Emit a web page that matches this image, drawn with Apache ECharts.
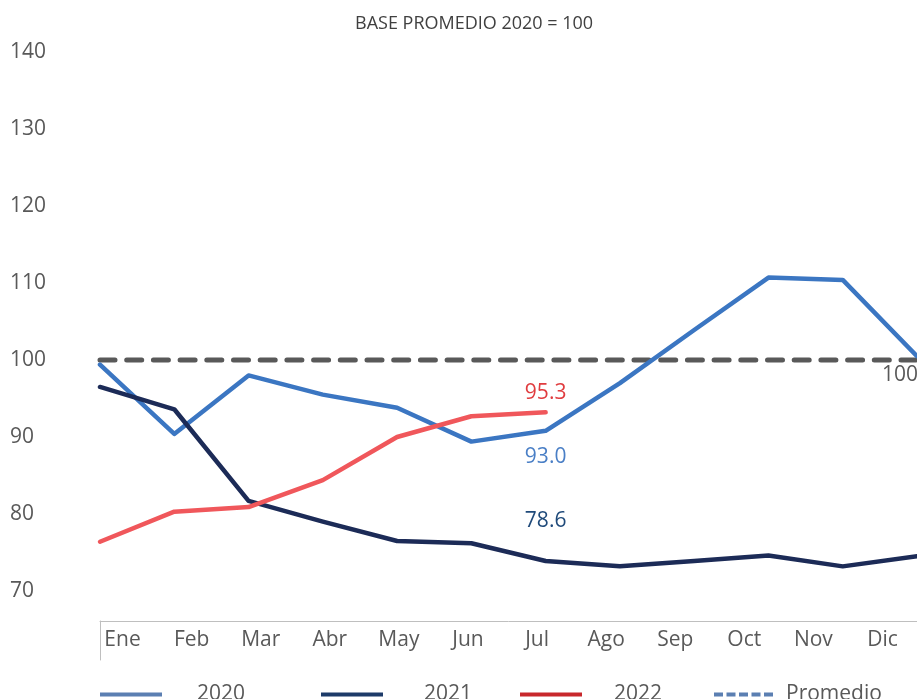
<!DOCTYPE html>
<html>
<head>
<meta charset="utf-8">
<script src="https://cdn.jsdelivr.net/npm/echarts@6/dist/echarts.min.js"></script>
<style>
  html, body { margin: 0; padding: 0; background: #fff; }
  #chart { width: 917px; height: 699px; }
</style>
</head>
<body>
<div id="chart"></div>
<script>
    // meses
    let meses = ['Ene', 'Feb', 'Mar', 'Abr', 'May', 'Jun', 'Jul', 'Ago', 'Sep', 'Oct', 'Nov', 'Dic']
    // indices base promedio 2020 = 100
    let serie2020 = [99.4, 90.4, 98.0, 95.5, 93.8, 89.4, 90.8, 97.0, 103.9, 110.7, 110.4, 100.5]
    let serie2021 = [96.5, 93.6, 81.7, 79.0, 76.5, 76.2, 73.9, 73.2, 73.9, 74.6, 73.2, 74.5]
    let serie2022 = [76.4, 80.3, 80.9, 84.4, 90.0, 92.7, 93.2]
    let promedio = [100, 100, 100, 100, 100, 100, 100, 100, 100, 100, 100, 100]
    let ticksY = [70, 80, 90, 100, 110, 120, 130, 140]
    // etiquetas de texto (promedios)
    let etiquetas = ['95.3', '93.0', '78.6', '100']

    let fuente = '"Open Sans", "Noto Sans", sans-serif'
    let gris = '#595959'

    function leyenda (nombre, left, pad, color, tipo) {
        return {
            left: left,
            top: 679,
            itemWidth: 62,
            itemHeight: 20,
            data: [{
                name: nombre,
                lineStyle: { color: color, width: 4, type: tipo, cap: 'butt' },
                itemStyle: { color: color, opacity: 0 }
            }],
            textStyle: {
                fontFamily: fuente,
                fontSize: 21,
                color: gris,
                padding: [0, 0, 0, pad]
            },
            selectedMode: false
        }
    }

    function etiqueta (x, y, texto, color, dx) {
        return {
            symbol: 'circle',
            symbolSize: 1,
            silent: true,
            itemStyle: { color: 'rgba(0,0,0,0)' },
            data: [{
                coord: [x, y],
                label: {
                    show: true,
                    position: 'inside',
                    formatter: texto,
                    offset: [dx, 0],
                    color: color,
                    fontSize: 21,
                    fontFamily: fuente
                }
            }]
        }
    }

    let chart = echarts.init(document.getElementById('chart'))
    chart.setOption({
        animation: false,
        title: {
            text: 'BASE PROMEDIO 2020 = 100',
            left: 350,
            top: 10,
            textStyle: { fontFamily: fuente, fontSize: 18, fontWeight: 'normal', color: '#404040' }
        },
        legend: [
            leyenda('2020', 93, 30, '#5b7fb2', 'solid'),
            leyenda('2021', 314, 36, '#1d3b69', 'solid'),
            leyenda('2022', 513, 27, '#c8282c', 'solid'),
            leyenda('Promedio', 707, 5, '#5b7fb2', [9, 3.5])
        ],
        grid: [
            { left: 100, right: 0, top: 52, bottom: 108 },
            { left: 88, right: -10, top: 621, bottom: 39 }
        ],
        xAxis: [
            {
                type: 'category',
                gridIndex: 0,
                data: meses,
                boundaryGap: false,
                offset: 30,
                axisLine: { show: true, lineStyle: { color: '#bfbfbf', width: 1 } },
                axisTick: { show: false },
                axisLabel: { show: false },
                splitLine: { show: false }
            },
            {
                type: 'category',
                gridIndex: 1,
                position: 'top',
                data: meses,
                boundaryGap: true,
                axisLine: { show: false },
                axisTick: { show: false },
                axisLabel: {
                    inside: true,
                    margin: 9,
                    fontFamily: fuente,
                    fontSize: 21,
                    color: gris,
                    interval: 0
                },
                splitLine: { show: false }
            }
        ],
        yAxis: [
            {
                type: 'value',
                gridIndex: 0,
                min: ticksY[0],
                max: ticksY[ticksY.length - 1],
                interval: 10,
                axisLine: { show: false },
                axisTick: { show: false },
                splitLine: { show: false },
                axisLabel: {
                    align: 'left',
                    margin: 90,
                    fontFamily: fuente,
                    fontSize: 21,
                    color: gris
                }
            },
            {
                type: 'value',
                gridIndex: 1,
                min: 0,
                max: 1,
                offset: -12,
                axisLine: { show: true, lineStyle: { color: '#bfbfbf', width: 1 } },
                axisTick: { show: false },
                axisLabel: { show: false },
                splitLine: { show: false }
            }
        ],
        series: [
            {
                name: 'Promedio',
                type: 'line',
                data: promedio,
                symbol: 'none',
                lineStyle: { color: gris, width: 5, type: [15, 11.7], cap: 'round' },
                markPoint: etiqueta('Dic', 98, etiquetas[3], gris, -17)
            },
            {
                name: '2020',
                type: 'line',
                data: serie2020,
                symbol: 'none',
                lineStyle: { color: '#3b76c2', width: 4.5, cap: 'round', join: 'round' },
                markPoint: etiqueta('Jul', 87.4, etiquetas[1], '#4a7fc6', 0)
            },
            {
                name: '2021',
                type: 'line',
                data: serie2021,
                symbol: 'none',
                lineStyle: { color: '#1c2b57', width: 4.5, cap: 'round', join: 'round' },
                markPoint: etiqueta('Jul', 79.1, etiquetas[2], '#1f4a7a', 0)
            },
            {
                name: '2022',
                type: 'line',
                data: serie2022,
                symbol: 'none',
                lineStyle: { color: '#f0575b', width: 4.5, cap: 'round', join: 'round' },
                markPoint: etiqueta('Jul', 95.7, etiquetas[0], '#e03c3f', 0)
            }
        ]
    })
</script>
</body>
</html>
